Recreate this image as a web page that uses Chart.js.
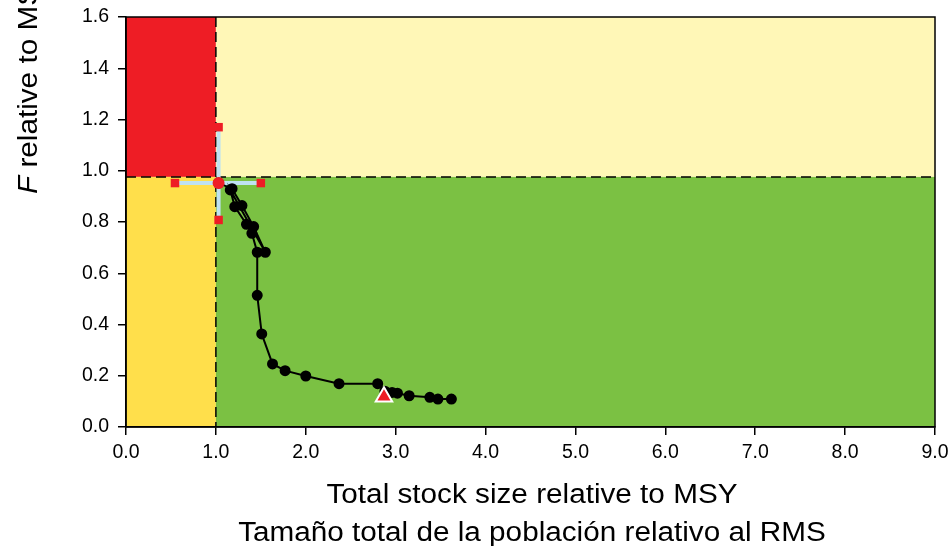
<!DOCTYPE html>
<html>
<head>
<meta charset="utf-8">
<script src="https://cdn.jsdelivr.net/npm/chart.js@4.4.1/dist/chart.umd.min.js"></script>
<style>
  html, body { margin: 0; padding: 0; background: #fff; }
  #wrap { width: 951px; height: 546px; }
</style>
</head>
<body>
<div id="wrap"><canvas id="kobe"></canvas></div>
<script>
// trajectory, earliest year first (S/S_MSY, F/F_MSY)
const stockSize = [3.62, 3.47, 3.38, 3.15, 3.02, 2.96, 2.88, 2.80, 2.37, 2.00, 1.77, 1.63, 1.51, 1.46, 1.46, 1.40, 1.34, 1.21, 1.16, 1.55, 1.42, 1.29, 1.18, 1.03];
const fishing   = [0.109, 0.109, 0.116, 0.122, 0.132, 0.135, 0.14, 0.169, 0.169, 0.199, 0.220, 0.246, 0.363, 0.514, 0.682, 0.756, 0.791, 0.860, 0.925, 0.682, 0.782, 0.864, 0.930, 0.952];
const firstYear = { x: 2.87, y: 0.118 };
const current = { x: 1.03, y: 0.952 };
const ciStock = [0.545, 1.50];
const ciF = [0.808, 1.17];
const fLimit = 0.976;
const sLimit = 1.0;
const xTicks = [0, 1, 2, 3, 4, 5, 6, 7, 8, 9];
const yTicks = [0, 0.2, 0.4, 0.6, 0.8, 1.0, 1.2, 1.4, 1.6];

const FONT = '"Liberation Sans", Arial, sans-serif';

const track = stockSize.map((s, i) => ({ x: s, y: fishing[i] }));

const quadrants = {
  id: 'quadrants',
  beforeDraw(chart) {
    const { ctx, chartArea: a, scales: { x, y } } = chart;
    const px = x.getPixelForValue(sLimit);
    const py = y.getPixelForValue(fLimit);
    ctx.save();
    ctx.fillStyle = '#ee1d25'; ctx.fillRect(a.left, a.top, px - a.left, py - a.top);
    ctx.fillStyle = '#fff7b7'; ctx.fillRect(px, a.top, a.right - px, py - a.top);
    ctx.fillStyle = '#ffdf4b'; ctx.fillRect(a.left, py, px - a.left, a.bottom - py);
    ctx.fillStyle = '#7bc143'; ctx.fillRect(px, py, a.right - px, a.bottom - py);
    ctx.restore();
  },
  beforeDatasetsDraw(chart) {
    const { ctx, chartArea: a, scales: { x, y } } = chart;
    const px = x.getPixelForValue(sLimit);
    const py = y.getPixelForValue(fLimit);
    ctx.save();
    ctx.strokeStyle = '#000';
    ctx.lineWidth = 1.5;
    ctx.setLineDash([10, 5]);
    ctx.beginPath();
    ctx.moveTo(px, a.top); ctx.lineTo(px, a.bottom);
    ctx.moveTo(a.left, py); ctx.lineTo(a.right, py);
    ctx.stroke();
    ctx.setLineDash([]);
    ctx.strokeRect(a.left, a.top, a.right - a.left, a.bottom - a.top);
    ctx.restore();
  },
  afterDraw(chart) {
    const { ctx } = chart;
    ctx.save();
    ctx.fillStyle = '#000';
    ctx.font = '27px ' + FONT;
    ctx.textBaseline = 'alphabetic';
    ctx.textAlign = 'center';
    // text in the reference is a little wider than normal
    ctx.save();
    ctx.translate(532, 0);
    ctx.scale(1.1, 1);
    ctx.fillText('Total stock size relative to MSY', 0, 503);
    ctx.fillText('Tamaño total de la población relativo al RMS', 0, 541);
    ctx.restore();
    // y title, rotated, italic F
    ctx.translate(37, 194);
    ctx.rotate(-Math.PI / 2);
    ctx.scale(1.1, 1);
    ctx.textAlign = 'left';
    ctx.font = 'italic 27px ' + FONT;
    ctx.fillText('F', 0, 0);
    const w = ctx.measureText('F').width;
    ctx.font = '27px ' + FONT;
    ctx.fillText(' relative to MSY', w, 0);
    ctx.restore();
  }
};

new Chart(document.getElementById('kobe'), {
  type: 'scatter',
  data: {
    datasets: [
      {
        data: [{ x: ciStock[0], y: current.y }, { x: ciStock[1], y: current.y }],
        showLine: true, borderColor: '#bfe2f2', borderWidth: 4,
        pointStyle: 'rect', pointRadius: 6, pointBackgroundColor: '#ee1d25', pointBorderWidth: 0,
        order: 4
      },
      {
        data: [{ x: current.x, y: ciF[0] }, { x: current.x, y: ciF[1] }],
        showLine: true, borderColor: '#bfe2f2', borderWidth: 4,
        pointStyle: 'rect', pointRadius: 6, pointBackgroundColor: '#ee1d25', pointBorderWidth: 0,
        order: 3
      },
      {
        data: track,
        showLine: true, borderColor: '#000', borderWidth: 2,
        pointRadius: 4.5, pointBackgroundColor: '#000', pointBorderColor: '#000',
        order: 2
      },
      {
        data: [current],
        pointRadius: 6, pointBackgroundColor: '#ee1d25', pointBorderWidth: 0,
        order: 1
      },
      {
        data: [firstYear],
        pointStyle: 'triangle', pointRadius: 9.5, pointBackgroundColor: '#ee1d25',
        pointBorderColor: '#fff', pointBorderWidth: 2,
        order: 0
      }
    ]
  },
  options: {
    responsive: true,
    maintainAspectRatio: false,
    animation: false,
    layout: { padding: { top: 17, right: 16, left: 0, bottom: 0 } },
    plugins: { legend: { display: false }, tooltip: { enabled: false } },
    scales: {
      x: {
        type: 'linear', min: 0, max: 9,
        afterFit(s) { s.height = 119; s.paddingLeft = 0; s.paddingRight = 0; },
        afterBuildTicks(s) { s.ticks = xTicks.map(v => ({ value: v })); },
        ticks: { callback: v => v.toFixed(1), color: '#000', font: { family: FONT, size: 19.5 }, padding: 6, maxRotation: 0 },
        grid: { drawOnChartArea: false, drawTicks: true, tickLength: 8, color: '#000', lineWidth: 1.5 },
        border: { color: '#000', width: 1.5 }
      },
      y: {
        type: 'linear', min: 0, max: 1.6,
        afterFit(s) { s.width = 126; s.paddingTop = 0; s.paddingBottom = 0; },
        afterBuildTicks(s) { s.ticks = yTicks.map(v => ({ value: v })); },
        ticks: { callback: v => v.toFixed(1), color: '#000', font: { family: FONT, size: 19.5 }, padding: 9 },
        grid: { drawOnChartArea: false, drawTicks: true, tickLength: 8, color: '#000', lineWidth: 1.5 },
        border: { color: '#000', width: 1.5 }
      }
    }
  },
  plugins: [quadrants]
});
</script>
</body>
</html>
